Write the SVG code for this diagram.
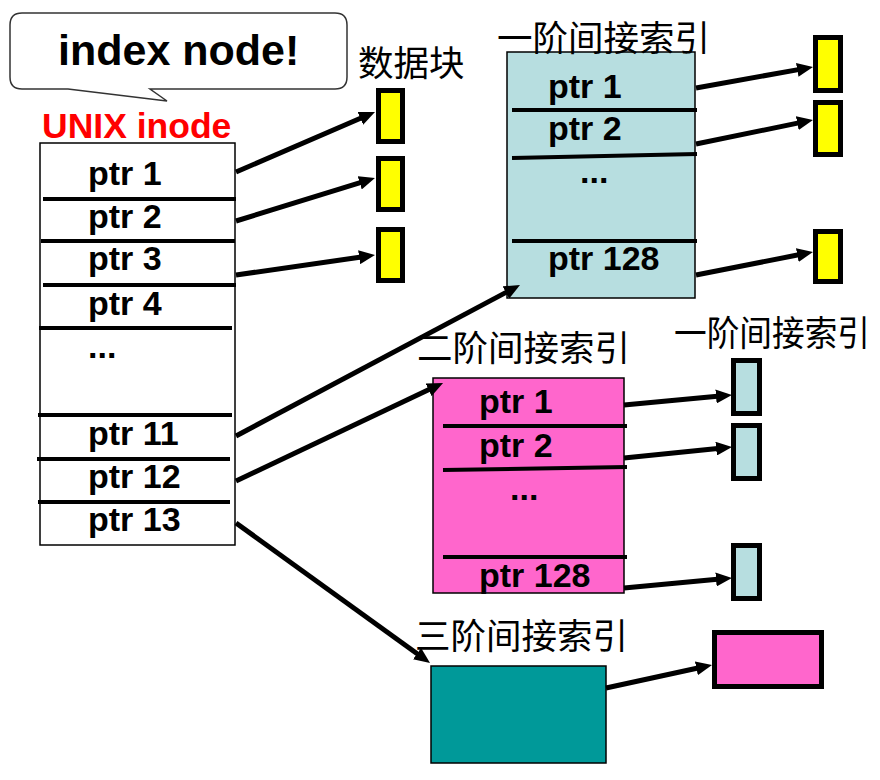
<svg xmlns="http://www.w3.org/2000/svg" width="880" height="780" viewBox="0 0 880 780">
<defs>
<marker id="ah" markerUnits="userSpaceOnUse" markerWidth="16" markerHeight="14" refX="4" refY="7" orient="auto">
<path d="M0,0 L16,7 L0,14 z" fill="#000"/>
</marker>
<style>
.t{font-family:"Liberation Sans",Arial,sans-serif;font-weight:bold;font-size:34px;fill:#000}
.cj{font-family:"Noto Sans CJK SC",sans-serif;font-size:35.5px;fill:#000}
.box{stroke:#000;stroke-width:1.5}
.div{stroke:#000;stroke-width:4}
.blk{stroke:#000;stroke-width:5}
.conn line{stroke:#000;stroke-width:5;marker-end:url(#ah)}
</style>
</defs>
<rect width="880" height="780" fill="#fff"/>

<g id="callout">
<path d="M22,13 H335 Q347,13 347,25 V77 Q347,89 335,89 H150 L167,101 L68,89 H22 Q10,89 10,77 V25 Q10,13 22,13 Z" fill="#fff" stroke="#333" stroke-width="1.5"/>
<text x="58" y="65" font-family="Liberation Sans,Arial,sans-serif" font-weight="bold" font-size="43" fill="#000">index node!</text>
</g>

<g id="inode">
<text x="42" y="138" font-family="Liberation Sans,Arial,sans-serif" font-weight="bold" font-size="35.5" fill="#ff0000">UNIX inode</text>
<rect class="box" x="40" y="143" width="195" height="402" fill="#fff"/>
<line class="div" x1="43" y1="199" x2="236" y2="199"/>
<line class="div" x1="41" y1="241" x2="235" y2="241"/>
<line class="div" x1="43" y1="285" x2="236" y2="285"/>
<line class="div" x1="39" y1="328" x2="232" y2="328"/>
<line class="div" x1="38" y1="415" x2="232" y2="415"/>
<line class="div" x1="37" y1="459" x2="230" y2="459"/>
<line class="div" x1="38" y1="502" x2="230" y2="502"/>
<text class="t" x="88" y="185">ptr 1</text>
<text class="t" x="88" y="228">ptr 2</text>
<text class="t" x="88" y="270">ptr 3</text>
<text class="t" x="88" y="315">ptr 4</text>
<text class="t" x="88" y="358">...</text>
<text class="t" x="88" y="445">ptr 11</text>
<text class="t" x="88" y="488">ptr 12</text>
<text class="t" x="88" y="531">ptr 13</text>
</g>

<g id="data-blocks">
<text class="cj" x="358" y="76" font-size="36">数据块</text>
<rect class="blk" x="378.5" y="90.5" width="24" height="51" fill="#ffff00"/>
<rect class="blk" x="378.5" y="158.5" width="24" height="51" fill="#ffff00"/>
<rect class="blk" x="378.5" y="229.5" width="24" height="51" fill="#ffff00"/>
</g>

<g id="single-indirect">
<rect class="box" x="507" y="52" width="188" height="246" fill="#b7dee0"/>
<text class="cj" x="497" y="51">一阶间接索引</text>
<line class="div" x1="512" y1="110" x2="697" y2="110"/>
<line class="div" x1="512" y1="158" x2="697" y2="154"/>
<line class="div" x1="512" y1="241" x2="697" y2="241"/>
<text class="t" x="548" y="98">ptr 1</text>
<text class="t" x="548" y="140">ptr 2</text>
<text class="t" x="580" y="183">...</text>
<text class="t" x="548" y="270">ptr 128</text>
</g>

<g id="single-blocks">
<rect class="blk" x="815.5" y="37.5" width="25" height="53" fill="#ffff00"/>
<rect class="blk" x="815.5" y="102.5" width="25" height="52" fill="#ffff00"/>
<rect class="blk" x="815.5" y="231.5" width="25" height="50" fill="#ffff00"/>
</g>

<g id="double-indirect">
<text class="cj" x="417" y="361">二阶间接索引</text>
<rect class="box" x="433" y="378" width="191" height="215" fill="#ff66cc"/>
<line class="div" x1="443" y1="426" x2="627" y2="426"/>
<line class="div" x1="443" y1="470" x2="627" y2="467"/>
<line class="div" x1="443" y1="557" x2="627" y2="557"/>
<text class="t" x="479" y="413">ptr 1</text>
<text class="t" x="479" y="457">ptr 2</text>
<text class="t" x="510" y="500">...</text>
<text class="t" x="479" y="587">ptr 128</text>
</g>

<g id="double-blocks">
<text class="cj" x="674" y="346" font-size="34" textLength="196" lengthAdjust="spacingAndGlyphs">一阶间接索引</text>
<rect class="blk" x="733.5" y="360.5" width="26" height="53" fill="#b7dee0"/>
<rect class="blk" x="733.5" y="425.5" width="26" height="53" fill="#b7dee0"/>
<rect class="blk" x="733.5" y="545.5" width="26" height="53" fill="#b7dee0"/>
</g>

<g id="triple-indirect">
<text class="cj" x="415" y="649">三阶间接索引</text>
<rect class="box" x="431" y="666" width="175" height="97" fill="#009999"/>
</g>

<g id="triple-block">
<rect class="blk" x="714.5" y="632.5" width="107" height="54" fill="#ff66cc"/>
</g>

<g class="conn" id="connectors">
<line x1="236" y1="172" x2="364" y2="116.8"/>
<line x1="236" y1="221" x2="363.5" y2="181.6"/>
<line x1="236" y1="275" x2="363.1" y2="256.7"/>
<line x1="696" y1="88" x2="801.2" y2="69.1"/>
<line x1="696" y1="144" x2="801.2" y2="122.4"/>
<line x1="696" y1="275" x2="801.2" y2="254.3"/>
<line x1="236" y1="436" x2="509.4" y2="290.6"/>
<line x1="236" y1="481" x2="432.2" y2="388.1"/>
<line x1="236" y1="523" x2="420.3" y2="656"/>
<line x1="624" y1="405" x2="720" y2="396.1"/>
<line x1="624" y1="458" x2="720.1" y2="448.2"/>
<line x1="624" y1="588" x2="720" y2="579.1"/>
<line x1="606" y1="688" x2="700.3" y2="667.5"/>
</g>
</svg>
